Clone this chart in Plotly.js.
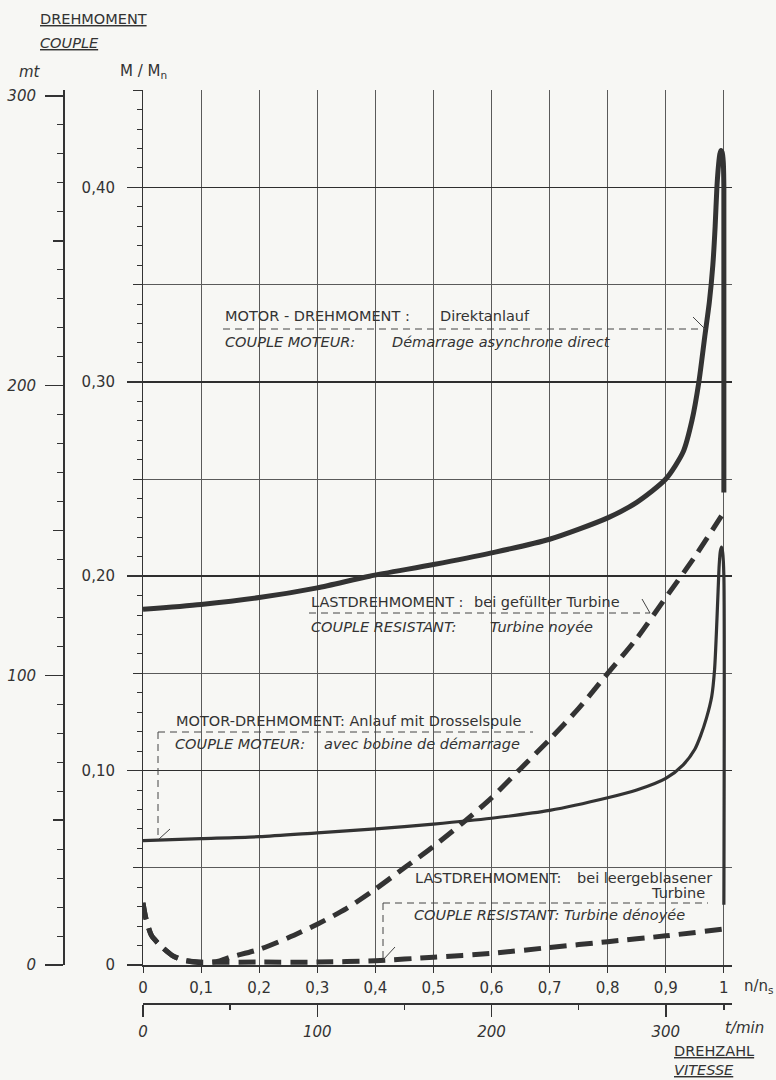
<!DOCTYPE html>
<html>
<head>
<meta charset="utf-8">
<script src="https://cdn.plot.ly/plotly-3.0.1.min.js"></script>
<style>
  html, body { margin: 0; padding: 0; background: #f7f7f4; }
  #chart { width: 776px; height: 1080px; }
</style>
</head>
<body>
<div id="chart"></div>
<script>
// ---------- data ----------
const speedTicks = [0, 0.1, 0.2, 0.3, 0.4, 0.5, 0.6, 0.7, 0.8, 0.9, 1];
const speedTickLabels = ["0", "0,1", "0,2", "0,3", "0,4", "0,5", "0,6", "0,7", "0,8", "0,9", "1"];
const torqueTicks = [0, 0.1, 0.2, 0.3, 0.4];
const torqueTickLabels = ["0", "0,10", "0,20", "0,30", "0,40"];
const mtTicks = [0, 100, 200, 300];
const mtTickLabels = ["0", "100", "200", "300"];
const rpmTicks = [0, 100, 200, 300];
const rpmTickLabels = ["0", "100", "200", "300"];
const synchronousRpm = 333.33;

// Motor torque, direct start
const xDirect = [0, 0.1, 0.2, 0.3, 0.39, 0.5, 0.6, 0.7, 0.8, 0.85, 0.9, 0.93, 0.945, 0.957, 0.967, 0.975, 0.981, 0.985, 0.988, 0.991, 0.993, 0.995, 0.997, 0.999, 1.0, 1.0];
const yDirect = [0.183, 0.1855, 0.189, 0.194, 0.200, 0.206, 0.212, 0.219, 0.230, 0.238, 0.250, 0.264, 0.280, 0.300, 0.323, 0.341, 0.360, 0.380, 0.400, 0.412, 0.417, 0.419, 0.418, 0.413, 0.400, 0.243];

// Motor torque, start with reactor
const xReactor = [0, 0.1, 0.2, 0.3, 0.4, 0.5, 0.6, 0.7, 0.8, 0.85, 0.9, 0.93, 0.95, 0.96, 0.97, 0.979, 0.984, 0.987, 0.990, 0.992, 0.994, 0.996, 0.998, 1.0, 1.0];
const yReactor = [0.064, 0.065, 0.066, 0.068, 0.070, 0.0725, 0.0755, 0.0795, 0.086, 0.090, 0.096, 0.103, 0.111, 0.118, 0.127, 0.138, 0.152, 0.170, 0.192, 0.206, 0.213, 0.215, 0.212, 0.200, 0.031];

// Load torque, flooded turbine
const xFlooded = [0, 0.005, 0.015, 0.03, 0.05, 0.07, 0.1, 0.13, 0.15, 0.2, 0.25, 0.3, 0.35, 0.4, 0.45, 0.5, 0.55, 0.6, 0.65, 0.7, 0.75, 0.8, 0.85, 0.9, 0.95, 1.0];
const yFlooded = [0.032, 0.024, 0.015, 0.010, 0.005, 0.0025, 0.0012, 0.002, 0.004, 0.008, 0.014, 0.021, 0.029, 0.039, 0.050, 0.061, 0.073, 0.086, 0.101, 0.116, 0.132, 0.150, 0.168, 0.189, 0.210, 0.233];

// Load torque, blown-out (empty) turbine
const xEmpty = [0, 0.005, 0.015, 0.03, 0.05, 0.07, 0.1, 0.2, 0.3, 0.4, 0.5, 0.6, 0.7, 0.8, 0.9, 1.0];
const yEmpty = [0.032, 0.024, 0.015, 0.010, 0.005, 0.0025, 0.0015, 0.0015, 0.0015, 0.0022, 0.004, 0.006, 0.009, 0.012, 0.015, 0.0185];

// ---------- layout helpers ----------
const W = 776, H = 1080;
const X0 = 143, X1 = 732, Y0 = 965, Y1 = 90;
const XMAX = 1.014, YMAX = 0.4501;
const MTMAX = 300 * (Y0 - Y1) / (965 - 96);
const px = v => v / W;
const py = v => 1 - v / H;
const dx = v => (v - X0) / (X1 - X0) * XMAX;
const dy = v => (Y0 - v) / (Y0 - Y1) * YMAX;

const INK = '#333333';
const FONT = 'DejaVu Sans, sans-serif';

function note(text, x, y, opt) {
  opt = opt || {};
  return {
    text: text, xref: 'paper', yref: 'paper', x: px(x), y: py(y),
    xanchor: opt.anchor || 'left', yanchor: 'middle', showarrow: false,
    font: { family: FONT, size: opt.size || 14.5, color: INK,
            style: opt.italic ? 'italic' : 'normal',
            lineposition: opt.under ? 'under' : 'none' }
  };
}
function seg(x0, y0, x1, y1, dashed) {
  return { type: 'line', xref: 'x', yref: 'y', x0: dx(x0), y0: dy(y0), x1: dx(x1), y1: dy(y1),
           line: { color: '#444', width: 1, dash: dashed ? '7px,5px' : 'solid' } };
}

const traces = [
  { x: xDirect, y: yDirect, mode: 'lines', line: { color: '#333', width: 5, shape: 'spline', smoothing: 0.7 }, hoverinfo: 'skip' },
  { x: xReactor, y: yReactor, mode: 'lines', line: { color: '#333', width: 3.2, shape: 'spline', smoothing: 0.7 }, hoverinfo: 'skip' },
  { x: xFlooded, y: yFlooded, mode: 'lines', line: { color: '#333', width: 5, dash: '17px,9px', shape: 'spline', smoothing: 0.7 }, hoverinfo: 'skip' },
  { x: xEmpty, y: yEmpty, mode: 'lines', line: { color: '#333', width: 5, dash: '17px,9px', shape: 'spline', smoothing: 0.7 }, hoverinfo: 'skip' },
  { x: [], y: [], xaxis: 'x', yaxis: 'y2', hoverinfo: 'skip' },
  { x: [], y: [], xaxis: 'x', yaxis: 'y3', hoverinfo: 'skip' },
  { x: [], y: [], xaxis: 'x', yaxis: 'y4', hoverinfo: 'skip' },
  { x: [], y: [], xaxis: 'x2', yaxis: 'y', hoverinfo: 'skip' }
];

const xDom = [px(X0), px(X1)];
const yDom = [1 - Y0 / H, 1 - Y1 / H];
const numFont = { family: FONT, size: 15, color: INK };
const itFont = { family: FONT, size: 15, color: INK, style: 'italic' };

const layout = {
  width: W, height: H,
  margin: { l: 0, r: 0, t: 0, b: 0 },
  paper_bgcolor: '#f7f7f4', plot_bgcolor: '#f7f7f4',
  showlegend: false, hovermode: false,
  xaxis: {
    domain: xDom, range: [0, XMAX], anchor: 'y',
    tickmode: 'array', tickvals: speedTicks, ticktext: speedTickLabels,
    ticks: 'outside', ticklen: 6, tickcolor: INK, tickwidth: 1,
    showgrid: true, gridcolor: '#5a5a5a', gridwidth: 1,
    showline: true, linecolor: INK, linewidth: 1.5, zeroline: false,
    tickfont: numFont, ticklabelstandoff: 2, automargin: false
  },
  xaxis2: {
    domain: xDom, range: [0, XMAX * synchronousRpm], overlaying: 'x', anchor: 'free', position: py(1003), side: 'bottom',
    tickmode: 'array', tickvals: rpmTicks, ticktext: rpmTickLabels,
    ticks: 'outside', ticklen: 12, tickcolor: INK, tickwidth: 1.5,
    minor: { tickvals: [50, 150, 250, synchronousRpm], ticks: 'outside', ticklen: 5, tickcolor: INK, showgrid: false },
    showgrid: false, showline: true, linecolor: INK, linewidth: 1.5, zeroline: false,
    tickfont: itFont, ticklabelstandoff: 2, automargin: false
  },
  yaxis: {
    domain: yDom, range: [0, YMAX], anchor: 'x',
    tickmode: 'array', tickvals: [0.05, 0.15, 0.25, 0.35, 0.45], showticklabels: false,
    ticks: 'outside', ticklen: 9, tickcolor: INK, tickwidth: 1,
    minor: { dtick: 0.01, tick0: 0, ticks: 'outside', ticklen: 5, tickcolor: INK, tickwidth: 1, showgrid: false },
    showgrid: true, gridcolor: '#5a5a5a', gridwidth: 1,
    showline: true, linecolor: INK, linewidth: 1.5, zeroline: false, automargin: false
  },
  yaxis3: {
    domain: yDom, range: [0, YMAX], overlaying: 'y', anchor: 'x', side: 'left',
    tickmode: 'array', tickvals: torqueTicks, ticktext: torqueTickLabels,
    ticks: 'outside', ticklen: 15, tickcolor: INK, tickwidth: 1.5,
    showgrid: true, gridcolor: '#2e2e2e', gridwidth: 1.6,
    showline: false, zeroline: false, tickfont: numFont, ticklabelstandoff: 9, automargin: false
  },
  yaxis2: {
    domain: yDom, range: [0, MTMAX], overlaying: 'y', anchor: 'free', position: px(63), side: 'left',
    tickmode: 'array', tickvals: mtTicks, ticktext: mtTickLabels,
    ticks: 'outside', ticklen: 18, tickcolor: INK, tickwidth: 1.5,
    minor: { dtick: 10, ticks: 'outside', ticklen: 6, tickcolor: INK, tickwidth: 1, showgrid: false },
    showgrid: false, showline: true, linecolor: INK, linewidth: 1.5, zeroline: false,
    tickfont: itFont, ticklabelstandoff: 6, automargin: false
  },
  yaxis4: {
    domain: yDom, range: [0, MTMAX], overlaying: 'y', anchor: 'free', position: px(63), side: 'left',
    tickmode: 'array', tickvals: [50, 150, 250], showticklabels: false,
    ticks: 'outside', ticklen: 10, tickcolor: INK, tickwidth: 1.5,
    showgrid: false, showline: false, zeroline: false, automargin: false
  },
  annotations: [
    note('DREHMOMENT', 38, 19, { under: true }),
    note('COUPLE', 38, 43, { under: true, italic: true }),
    note('mt', 17, 72, { italic: true, size: 15 }),
    note('M / M<sub>n</sub>', 118, 72, { size: 15 }),
    note('n/n<sub>s</sub>', 742, 986, { size: 15 }),
    note('t/min', 723, 1028, { italic: true, size: 15 }),
    note('DREHZAHL', 672, 1051, { under: true }),
    note('VITESSE', 672, 1070, { under: true, italic: true }),

    note('MOTOR - DREHMOMENT :', 223, 316),
    note('Direktanlauf', 438, 316),
    note('COUPLE MOTEUR:', 223, 342, { italic: true }),
    note('Démarrage asynchrone direct', 390, 342, { italic: true }),

    note('LASTDREHMOMENT :', 309, 602),
    note('bei gefüllter Turbine', 472, 602),
    note('COUPLE RESISTANT:', 309, 627, { italic: true }),
    note('Turbine noyée', 488, 627, { italic: true }),

    note('MOTOR-DREHMOMENT: Anlauf mit Drosselspule', 174, 721),
    note('COUPLE MOTEUR:', 173, 744, { italic: true }),
    note('avec bobine de démarrage', 322, 744, { italic: true }),

    note('LASTDREHMOMENT:', 413, 878),
    note('bei leergeblasener', 575, 878),
    note('Turbine', 707, 893, { anchor: 'right' }),
    note('COUPLE RESISTANT: Turbine dénoyée', 412, 915, { italic: true })
  ],
  shapes: [
    seg(223, 329, 705, 329, true), seg(693, 317, 705, 329, false),
    seg(309, 613, 650, 613, true), seg(642, 599, 650, 613, false),
    seg(158, 732, 533, 732, true), seg(158, 732, 158, 837, true), seg(170, 829, 159, 839, false),
    seg(383, 903, 708, 903, true), seg(383, 903, 383, 958, true), seg(395, 947, 383, 960, false)
  ]
};

Plotly.newPlot('chart', traces, layout, { staticPlot: true, displayModeBar: false });
</script>
</body>
</html>
